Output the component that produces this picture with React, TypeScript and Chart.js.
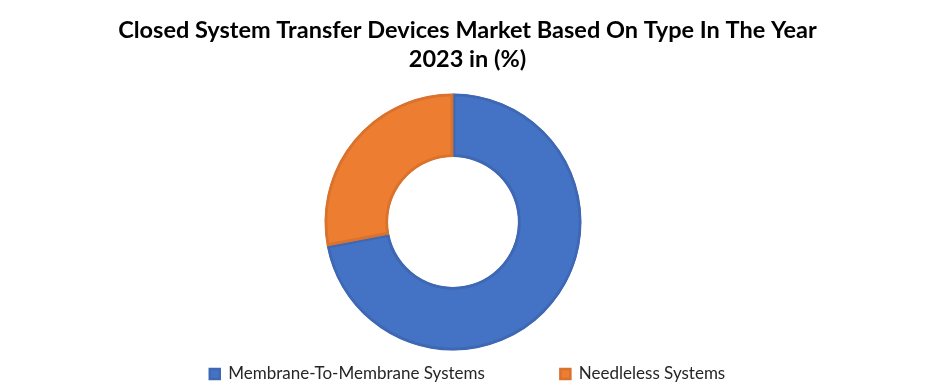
import React, { useEffect, useRef } from "react";
import { Chart, registerables } from "chart.js";

Chart.register(...registerables);

const categories = ["Membrane-To-Membrane Systems", "Needleless Systems"];
const shares = [72, 28];
const fillColors = ["#4472C4", "#ED7D31"];
const edgeColors = ["#3E68B4", "#D9722C"];
const titleLines = [
  "Closed System Transfer Devices Market Based On Type In The Year",
  "2023 in (%)",
];

// Shift the plot area left so the ring sits slightly left of the centred title
const shiftArea = {
  id: "shiftArea",
  afterLayout(chart: any) {
    chart.chartArea.left -= 29;
  },
};

export default function App() {
  const ref = useRef<HTMLCanvasElement | null>(null);
  useEffect(() => {
    document.body.style.margin = "0";
    const ctx = ref.current;
    if (!ctx) return;
    const chart = new Chart(ctx, {
      type: "doughnut",
      data: {
        labels: categories,
        datasets: [
          {
            data: shares,
            backgroundColor: fillColors,
            borderColor: edgeColors,
            borderWidth: 2.5,
            borderAlign: "inner",
            clip: false,
          } as any,
        ],
      },
      options: {
        animation: false,
        responsive: false,
        rotation: 0,
        circumference: 360,
        radius: 128.5,
        cutout: "50.5%",
        layout: { padding: { left: 0, right: 0, top: 0, bottom: -5.5 } },
        plugins: {
          title: {
            display: true,
            text: titleLines,
            color: "#000000",
            font: { family: "Lato", size: 23.5, weight: "bold", lineHeight: 1.234 },
            padding: { top: 16, bottom: 80 },
          },
          legend: {
            position: "bottom",
            labels: {
              color: "#262626",
              font: { family: "Lato", size: 17 },
              boxWidth: 10,
              boxHeight: 10,
              padding: 75.5,
            },
          },
          tooltip: { enabled: false },
        },
      },
      plugins: [shiftArea],
    });
    return () => chart.destroy();
  }, []);
  return (
    <div style={{ position: "absolute", left: 0, top: 0, width: 935, height: 387, background: "#fff" }}>
      <canvas ref={ref} width={935} height={387} />
    </div>
  );
}
